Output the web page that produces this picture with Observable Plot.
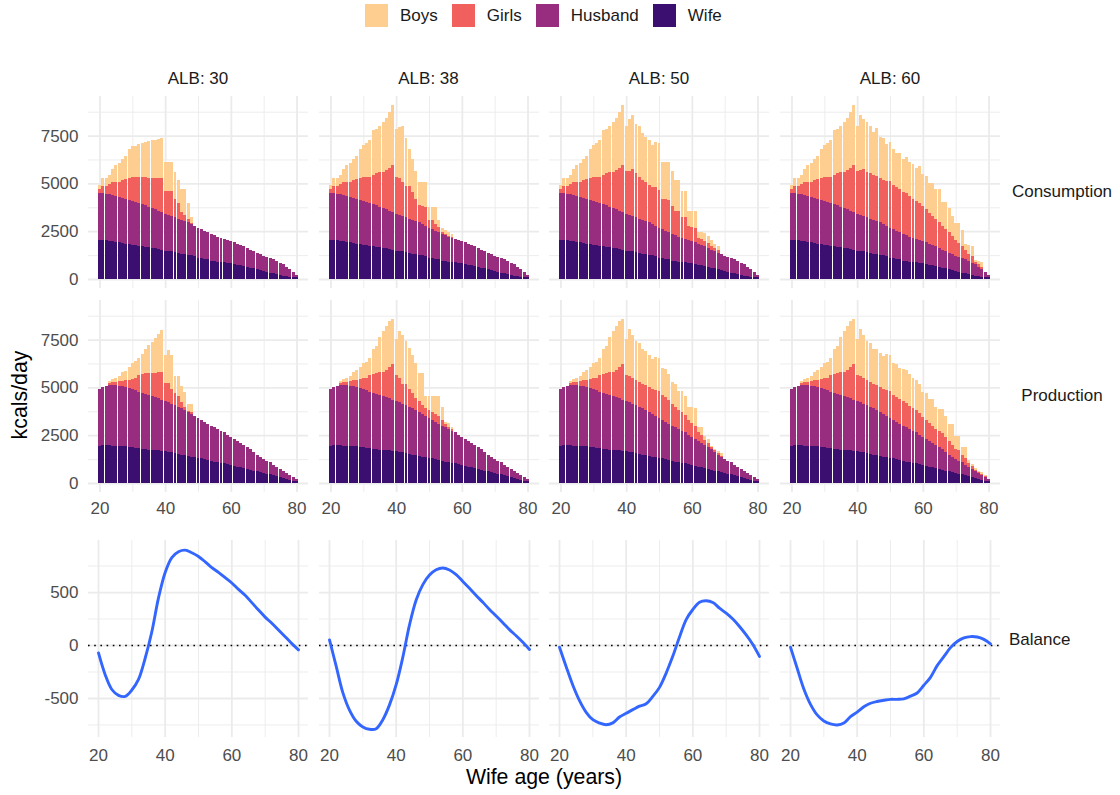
<!DOCTYPE html>
<html><head><meta charset="utf-8">
<script src="https://cdn.jsdelivr.net/npm/d3@7"></script>
<script src="https://cdn.jsdelivr.net/npm/@observablehq/plot@0.6"></script>
<style>
body{margin:0;background:#fff;}
#chart{position:relative;width:1120px;height:795px;overflow:hidden;background:#fff;font-family:"Liberation Sans",Arial,Helvetica,sans-serif;}
.panel{position:absolute;}
.panel svg{display:block;background:transparent;overflow:visible;}
#legend{position:absolute;left:365px;top:4px;}
.lg-swatches{font-family:"Liberation Sans",Arial,Helvetica,sans-serif !important;font-size:17px !important;color:#1a1a1a;margin:0 !important;}
.lg-swatches-wrap{min-height:23px !important;}
.lg-swatch{margin-right:14px !important;}
.lg-swatch > svg{margin-right:12px !important;}
</style></head><body><div id="chart"></div>
<script>
const FONT = '"Liberation Sans", Arial, Helvetica, sans-serif';
const ages = [20,21,22,23,24,25,26,27,28,29,30,31,32,33,34,35,36,37,38,39,40,41,42,43,44,45,46,47,48,49,50,51,52,53,54,55,56,57,58,59,60,61,62,63,64,65,66,67,68,69,70,71,72,73,74,75,76,77,78,79,80];
const albs = [30, 38, 50, 60];
const layers = ["Boys", "Girls", "Husband", "Wife"];
const stackOrder = ["Wife", "Husband", "Girls", "Boys"];
const rowNames = ["Consumption", "Production", "Balance"];

// adults (kcal/day), ages 20..80
const wifeCons = [2050,2050,2020,1990,1970,1950,1920,1880,1840,1810,1780,1760,1730,1710,1680,1650,1620,1600,1570,1520,1480,1460,1440,1410,1360,1320,1300,1280,1250,1180,1120,1080,1050,1020,960,930,910,890,880,850,820,780,750,710,680,630,590,550,510,450,400,360,330,300,260,200,180,150,120,100,90];
const husbandCons = [2460,2430,2430,2430,2420,2390,2380,2380,2370,2330,2290,2260,2240,2200,2180,2130,2090,2050,2010,1980,1930,1890,1860,1820,1790,1770,1720,1680,1650,1610,1560,1520,1470,1420,1400,1350,1290,1270,1230,1210,1190,1140,1090,1050,1020,980,930,900,870,850,820,810,790,730,680,650,580,490,380,260,120];
const wifeProd = [1960,1990,2000,1980,1960,1950,1940,1930,1920,1900,1870,1850,1820,1790,1760,1740,1720,1710,1700,1690,1680,1640,1600,1570,1530,1490,1450,1410,1370,1340,1310,1290,1250,1200,1150,1110,1080,1050,1020,990,950,900,860,820,770,730,690,650,610,570,530,490,450,400,350,300,260,220,170,120,80];
const husbandProd = [2970,3010,3090,3140,3160,3150,3140,3130,3110,3080,3060,3000,2950,2930,2910,2880,2850,2790,2730,2670,2610,2580,2550,2500,2460,2410,2370,2310,2240,2170,2110,2030,1960,1910,1850,1810,1750,1690,1640,1540,1450,1390,1330,1270,1230,1160,1100,980,870,790,720,680,640,560,480,430,360,290,230,170,110];

// children consumption (from age 20 onward; missing = 0)
const girlsCons30 = [190,360,390,540,700,750,790,910,1020,1140,1240,1290,1340,1400,1450,1480,1550,1610,1680,1760,1170,1230,1280,980,820,440,340,170,20];
const boysCons30  = [190,440,440,490,660,870,990,1120,1220,1520,1670,1670,1730,1800,1860,1940,1990,2030,2080,2130,1520,1520,1520,1400,1220,1190,1360,840,310];
const girlsCons38 = [190,360,390,540,700,750,790,910,1020,1140,1260,1330,1380,1530,1660,1830,1900,2050,2250,2440,1920,1940,1770,1640,1720,1450,1180,890,910,970,430,460,380,260,100,80,70,60];
const boysCons38  = [190,440,440,490,660,870,990,1120,1220,1520,1660,1760,1940,2340,2330,2380,2590,2740,2890,3180,2540,2660,2920,2510,1930,1740,1460,1200,1240,1290,680,730,860,390,200,180,170,150];
const girlsCons50 = [190,360,390,540,700,750,790,910,1020,1140,1260,1330,1380,1530,1660,1830,1900,2050,2250,2440,2250,2300,2450,2300,2200,2100,2050,1950,1900,2000,2000,1600,1650,1700,1450,1300,1350,1100,1150,700,720,760,330,350,300,280,200,150,120];
const boysCons50  = [190,440,440,490,660,870,990,1120,1220,1520,1660,1760,1940,2340,2330,2380,2590,2740,2890,3180,2360,2720,2850,2580,2670,2470,2350,2360,2210,2390,2420,1900,1930,1960,1820,1590,1620,1340,1340,790,820,870,310,370,400,380,300,250,200];
const girlsCons60 = [190,360,390,540,700,750,790,910,1020,1140,1260,1330,1380,1530,1660,1830,1900,2050,2250,2440,2250,2350,2450,2370,2400,2360,2380,2340,2300,2360,2420,2300,2280,2260,2190,2220,2150,2040,1990,1940,1790,1730,1610,1540,1450,1390,1230,1150,1070,950,830,730,630,470,360,350,140,160,150];
const boysCons60  = [190,440,440,490,660,870,990,1120,1220,1520,1660,1760,1940,2340,2330,2380,2590,2740,2890,3180,2360,2900,2620,2600,2470,2250,2480,2150,2150,1900,2080,1920,1800,1900,1700,1900,1750,1800,1700,1900,1700,1730,1550,1700,1570,1720,1280,1430,1250,1050,890,1040,830,350,500,550,100,150,250];

// children production
const girlsProd30 = [0,0,0,105,140,195,250,270,350,420,500,620,890,970,1060,1110,1180,1260,1350,1420,920,990,760,620,580,320,140,65,120];
const boysProd30  = [0,0,0,120,170,190,280,450,500,680,870,890,900,1040,1270,1480,1600,1840,2000,2220,1490,1750,1800,920,1040,870,780,350,400];
const girlsProd38 = [0,0,0,110,140,200,250,320,370,450,540,650,890,980,1060,1160,1230,1400,1620,1840,1350,1250,1050,1130,920,790,610,570,490,390,380,380,390,390,300,180,120,60];
const boysProd38  = [0,0,0,120,170,190,280,400,490,650,830,850,900,1290,1440,1870,2150,2310,2400,2390,1870,2480,2520,2230,2170,2000,1870,1440,1630,660,760,860,970,1070,660,110,200,150];
const girlsProd50 = [0,0,0,110,140,200,250,320,370,450,540,650,890,980,1060,1160,1230,1400,1620,1840,1350,1380,1350,1330,1310,1300,1280,1280,1290,1340,1380,1280,1290,1240,1150,1080,970,960,890,770,750,710,460,410,250,210,110,70,80,70];
const boysProd50  = [0,0,0,120,170,190,280,400,490,650,830,850,900,1290,1440,1870,2150,2310,2400,2390,1880,2440,2220,2030,2040,1830,1800,1700,1600,1750,1750,1440,1450,1340,1110,1170,1030,1130,1020,660,810,900,270,420,230,210,60,100,90,120];
const girlsProd60 = [0,0,0,110,140,200,250,320,370,450,540,650,890,980,1060,1160,1230,1400,1620,1840,1350,1380,1350,1330,1310,1300,1280,1280,1290,1340,1380,1280,1290,1290,1300,1280,1220,1160,1140,1120,1050,1010,960,910,850,810,810,770,720,640,550,530,360,340,220,140,80,50,80,60];
const boysProd60  = [0,0,0,120,170,190,280,400,490,650,830,850,900,1290,1440,1870,2150,2310,2400,2390,1880,2440,2220,2030,2040,1830,1900,1800,1750,1900,1900,1700,1700,1600,1650,1700,1650,1600,1600,1550,1290,1400,1240,1390,1150,1170,1270,1100,890,1090,680,780,420,570,150,130,100,60,80,50];

// balance (production - consumption, smoothed), read every 2 years
const balanceAges = [20,22,24,26,28,30,32,34,36,38,40,42,44,46,48,50,52,54,56,58,60,62,64,66,68,70,72,74,76,78,80];
const balance30 = [-70,-275,-415,-470,-480,-420,-320,-120,130,450,690,830,885,900,875,840,790,735,690,640,590,530,475,405,335,268,210,147,83,18,-41];
const balance38 = [53,-195,-445,-610,-715,-768,-790,-785,-700,-560,-370,-110,195,430,575,665,715,732,712,668,605,540,472,408,340,278,215,150,92,30,-38];
const balance50 = [-16,-200,-375,-520,-630,-700,-732,-748,-730,-675,-640,-605,-572,-550,-480,-395,-260,-100,80,245,340,408,422,406,352,305,250,180,100,10,-103];
const balance60 = [-16,-215,-410,-555,-655,-712,-740,-750,-732,-672,-628,-578,-545,-528,-517,-508,-508,-503,-478,-448,-375,-300,-190,-105,-20,38,72,84,80,58,16];

const kcalTicks = [0, 2500, 5000, 7500];
const kcalMinor = [1250, 3750, 6250, 8750];
const balTicks = [-500, 0, 500];
const balMinor = [-750, -250, 250, 750];
const ageTicks = [20, 40, 60, 80];
const ageMinor = [30, 50, 70];

const colors = {Boys: "#FECE91", Girls: "#F1605D", Husband: "#982D80", Wife: "#3B0F70"};

const childData = {
  Consumption: {30: [girlsCons30, boysCons30], 38: [girlsCons38, boysCons38], 50: [girlsCons50, boysCons50], 60: [girlsCons60, boysCons60]},
  Production: {30: [girlsProd30, boysProd30], 38: [girlsProd38, boysProd38], 50: [girlsProd50, boysProd50], 60: [girlsProd60, boysProd60]}
};
const adultData = {Consumption: [wifeCons, husbandCons], Production: [wifeProd, husbandProd]};
const balanceData = {30: balance30, 38: balance38, 50: balance50, 60: balance60};

function rowsFor(kind, alb) {
  const [wife, husband] = adultData[kind];
  const [girls, boys] = childData[kind][alb];
  const out = [];
  ages.forEach((age, i) => {
    out.push({age, layer: "Wife", value: wife[i]});
    out.push({age, layer: "Husband", value: husband[i]});
    out.push({age, layer: "Girls", value: girls[i] ?? 0});
    out.push({age, layer: "Boys", value: boys[i] ?? 0});
  });
  return out;
}

// layout
const colX = [88, 318.5, 549, 780];
const panelW = 220;
const rowTop = {Consumption: 96, Production: 300, Balance: 540};
const rowH = {Consumption: 192, Production: 192, Balance: 197};
const chart = document.getElementById("chart");

function gridMarks(yMajor, yMinor) {
  return [
    Plot.ruleY(yMinor, {stroke: "#ebebeb", strokeWidth: 0.9}),
    Plot.ruleX(ageMinor, {stroke: "#ebebeb", strokeWidth: 0.9}),
    Plot.ruleY(yMajor, {stroke: "#ebebeb", strokeWidth: 1.8}),
    Plot.ruleX(ageTicks, {stroke: "#ebebeb", strokeWidth: 1.8})
  ];
}

function place(svg, left, top) {
  const d = document.createElement("div");
  d.className = "panel";
  d.style.left = left + "px";
  d.style.top = top + "px";
  d.appendChild(svg);
  chart.appendChild(d);
}

const fmt = d => String(d);

albs.forEach((alb, c) => {
  ["Consumption", "Production", "Balance"].forEach(kind => {
    const showY = c === 0;
    const showX = kind !== "Consumption";
    const mL = showY ? 88 : 0;
    const mB = showX ? 45 : 0;
    const isBal = kind === "Balance";
    const marks = isBal
      ? [
          ...gridMarks(balTicks, balMinor),
          Plot.ruleY([0], {stroke: "#000", strokeWidth: 1.6, strokeDasharray: "1.6,4.6"}),
          Plot.line(balanceAges.map((a, i) => ({age: a, value: balanceData[alb][i]})),
            {x: "age", y: "value", stroke: "#3366FF", strokeWidth: 2.9, curve: "catmull-rom"})
        ]
      : [
          ...gridMarks(kcalTicks, kcalMinor),
          Plot.rectY(rowsFor(kind, alb), {
            x1: d => d.age - 0.45, x2: d => d.age + 0.45, y: "value",
            fill: "layer", order: stackOrder, shapeRendering: "crispEdges"
          })
        ];
    const svg = Plot.plot({
      width: panelW + mL,
      height: rowH[kind] + mB,
      marginLeft: mL, marginRight: 0, marginTop: 0, marginBottom: mB,
      style: {fontFamily: FONT, fontSize: "17px", color: "#4d4d4d", background: "transparent", overflow: "visible"},
      x: {domain: isBal ? [17, 83] : [16.5, 83.5], axis: showX ? "bottom" : null, ticks: ageTicks,
          tickSize: 0, tickPadding: isBal ? 11 : 9.5, tickFormat: fmt, label: null},
      y: {domain: isBal ? [-868, 991] : [-471, 9571], axis: showY ? "left" : null,
          ticks: isBal ? balTicks : kcalTicks, tickSize: 0, tickPadding: 10, tickFormat: fmt, label: null},
      color: {domain: layers, range: layers.map(l => colors[l])},
      marks
    });
    place(svg, colX[c] - mL, rowTop[kind]);
  });
});

// legend
const leg = Plot.legend({
  color: {domain: layers, range: layers.map(l => colors[l])},
  swatchSize: 23, className: "lg"
});
const legDiv = document.createElement("div");
legDiv.id = "legend";
legDiv.appendChild(leg);
chart.appendChild(legDiv);

// text overlay: strip labels and axis titles
const ov = d3.select(chart).append("svg")
  .attr("width", 1120).attr("height", 795)
  .style("position", "absolute").style("left", 0).style("top", 0)
  .style("pointer-events", "none")
  .style("font-family", FONT);

albs.forEach((alb, c) => {
  ov.append("text").attr("x", colX[c] + panelW / 2).attr("y", 84)
    .attr("text-anchor", "middle").attr("font-size", 17).attr("fill", "#1a1a1a")
    .text(`ALB: ${alb}`);
});
ov.append("text").attr("x", 1062).attr("y", 197).attr("text-anchor", "middle")
  .attr("font-size", 17).attr("fill", "#1a1a1a").text(rowNames[0]);
ov.append("text").attr("x", 1062).attr("y", 401).attr("text-anchor", "middle")
  .attr("font-size", 17).attr("fill", "#1a1a1a").text(rowNames[1]);
ov.append("text").attr("x", 1009).attr("y", 645).attr("text-anchor", "start")
  .attr("font-size", 17).attr("fill", "#1a1a1a").text(rowNames[2]);
ov.append("text").attr("x", 544).attr("y", 784).attr("text-anchor", "middle")
  .attr("font-size", 21.3).attr("fill", "#000").text("Wife age (years)");
ov.append("text").attr("transform", "translate(27,395) rotate(-90)").attr("text-anchor", "middle")
  .attr("font-size", 21.3).attr("fill", "#000").text("kcals/day");
</script></body></html>
